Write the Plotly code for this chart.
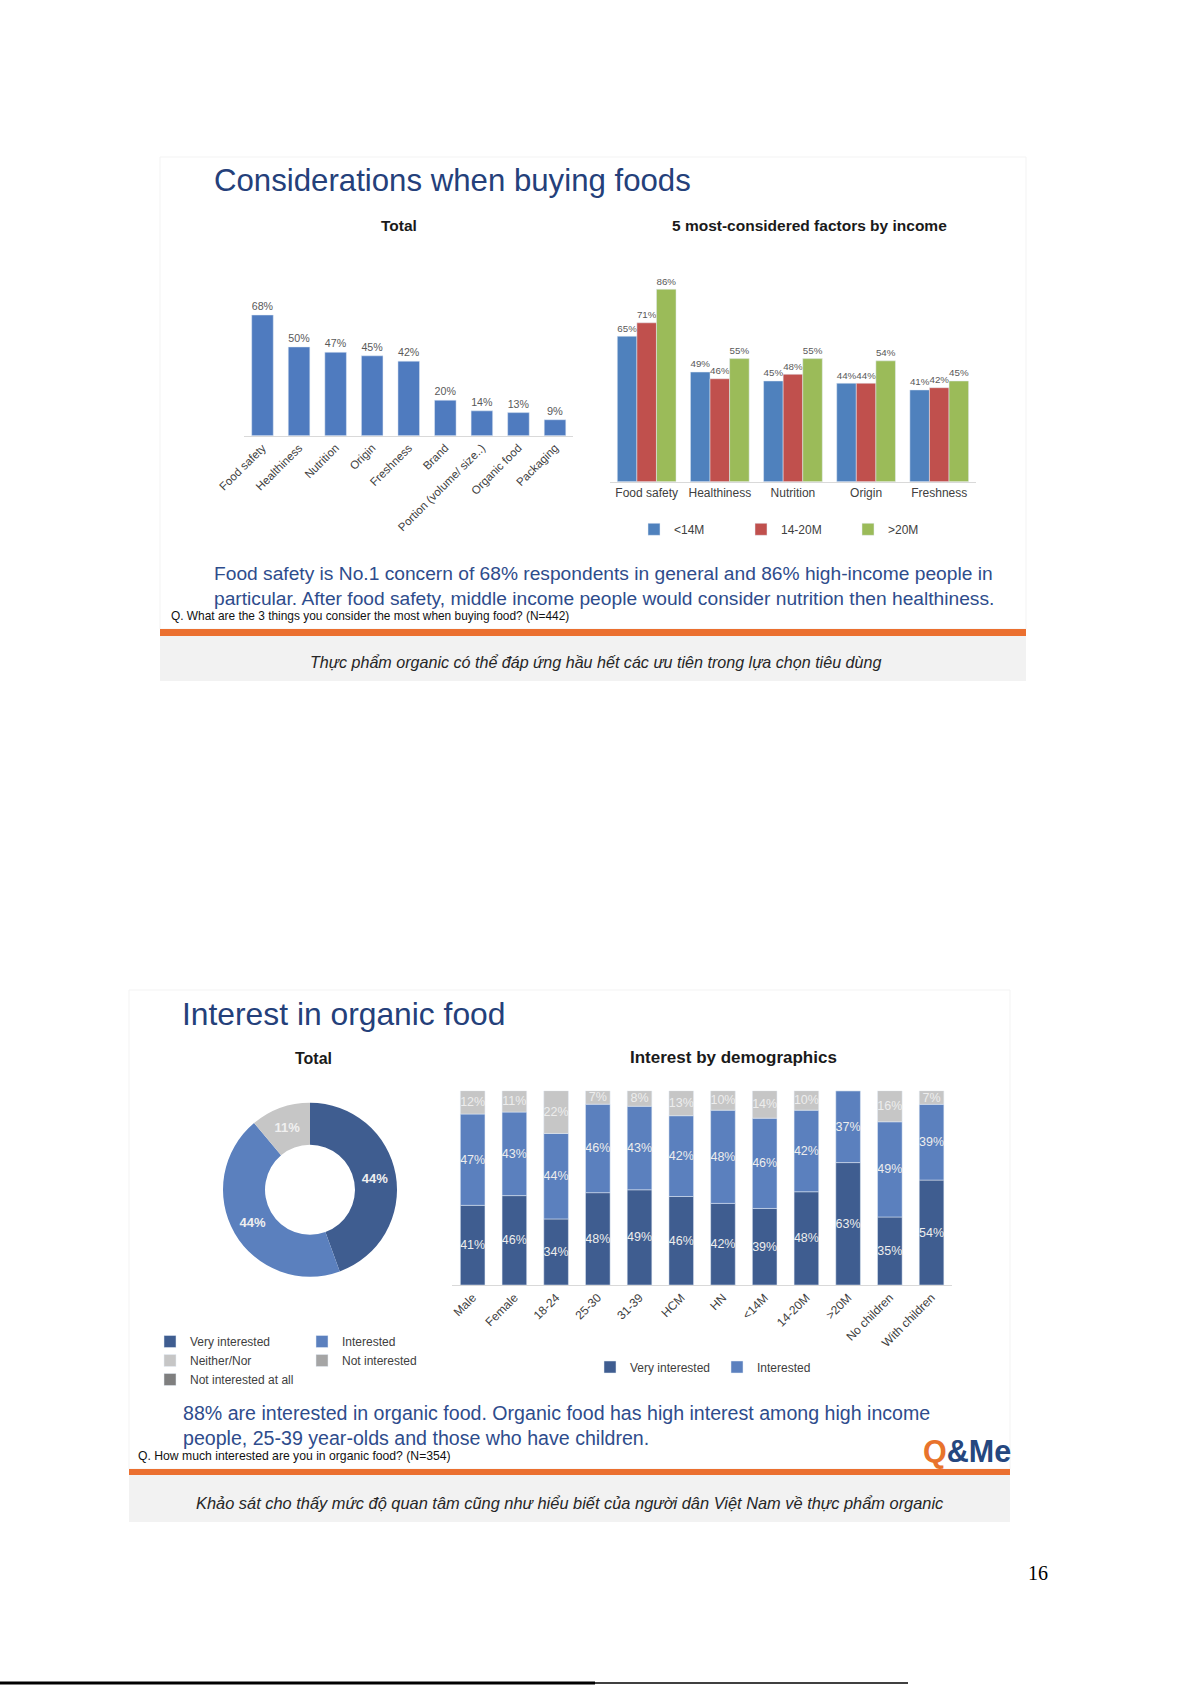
import plotly.graph_objects as go

W, H = 1191, 1685

def px(x):
    return x / W

def py(y):
    return 1 - y / H

# ---------------- data ----------------
factors_total = ["Food safety", "Healthiness", "Nutrition", "Origin", "Freshness",
                 "Brand", "Portion (volume/ size..)", "Organic food", "Packaging"]
total_pct = [68, 50, 47, 45, 42, 20, 14, 13, 9]

factors_income = ["Food safety", "Healthiness", "Nutrition", "Origin", "Freshness"]
income_groups = ["<14M", "14-20M", ">20M"]
income_lt14 = [65, 49, 45, 44, 41]
income_14_20 = [71, 46, 48, 44, 42]
income_gt20 = [86, 55, 55, 54, 45]

interest_labels = ["Very interested", "Interested", "Neither/Nor",
                   "Not interested", "Not interested at all"]
interest_total = [44, 44, 11, 0, 0]

demo_groups = ["Male", "Female", "18-24", "25-30", "31-39", "HCM", "HN",
               "<14M", "14-20M", ">20M", "No children", "With children"]
demo_very = [41, 46, 34, 48, 49, 46, 42, 39, 48, 63, 35, 54]
demo_interested = [47, 43, 44, 46, 43, 42, 48, 46, 42, 37, 49, 39]
demo_neither = [12, 11, 22, 7, 8, 13, 10, 14, 10, 0, 16, 7]

# ---------------- style ----------------
FONT = "Liberation Sans, Arial, sans-serif"
NAVY = "#24407A"
TEXT_BLUE = "#2E4C8C"
ORANGE = "#EB7030"
GREY_BOX = "#F2F2F2"
C_TOTAL = "#4F7BBF"
C_INCOME = ["#4F81BD", "#C0504D", "#9BBB59"]
C_INTEREST = ["#3F5D90", "#5B80BE", "#C6C6C6", "#A5A5A5", "#7F7F7F"]

fig = go.Figure()

# ---- Top-left: Total ----
fig.add_trace(go.Bar(
    x=factors_total, y=total_pct,
    text=[f"{v}%" for v in total_pct], textposition="outside",
    textfont=dict(size=11, color="#595959", family=FONT),
    marker_color=C_TOTAL, width=0.59, cliponaxis=False,
    showlegend=False, xaxis="x", yaxis="y"))

# ---- Top-right: by income ----
for name, vals, col in zip(income_groups, [income_lt14, income_14_20, income_gt20], C_INCOME):
    fig.add_trace(go.Bar(
        x=factors_income, y=vals, name=name,
        text=[f"{v}%" for v in vals], textposition="outside",
        textfont=dict(size=11.5, color="#595959", family=FONT),
        marker_color=col, cliponaxis=False,
        xaxis="x2", yaxis="y2", legend="legend"))

# ---- Bottom-right: 100% stacked demographics ----
totals = [a + b + c for a, b, c in zip(demo_very, demo_interested, demo_neither)]
segments = [demo_very, demo_interested, demo_neither]
norm = [[v * 100.0 / t for v, t in zip(seg, totals)] for seg in segments]
bases = [[0.0] * len(totals),
         norm[0],
         [a + b for a, b in zip(norm[0], norm[1])]]
names = ["Very interested", "Interested", "Neither/Nor"]
for i in range(3):
    fig.add_trace(go.Bar(
        x=demo_groups, y=norm[i], base=bases[i], name=names[i],
        text=[f"{v}%" for v in segments[i]], textposition="inside",
        insidetextanchor="middle", constraintext="none", textangle=0,
        textfont=dict(size=12.5, color="#EDEDED", family=FONT),
        marker_color=C_INTEREST[i], width=0.59, offsetgroup="demo",
        cliponaxis=False, xaxis="x3", yaxis="y3", legend="legend3",
        showlegend=(i < 2)))

# ---- Bottom-left: donut ----
fig.add_trace(go.Pie(
    labels=interest_labels, values=interest_total,
    text=[f"{v}%" if v >= 5 else "" for v in interest_total],
    textinfo="text", textposition="inside", insidetextorientation="horizontal",
    textfont=dict(size=13, color="#F0F0F0", family=FONT, weight="bold"),
    hole=0.517, sort=False, direction="clockwise", rotation=0,
    marker=dict(colors=C_INTEREST, line=dict(width=0)),
    domain=dict(x=[px(223), px(397)], y=[py(1276.7), py(1102.7)]),
    showlegend=False))

# donut legend entries (two columns)
legend_cols = ["legend2", "legend4", "legend2", "legend4", "legend2"]
for lab, col, lg in zip(interest_labels, C_INTEREST, legend_cols):
    fig.add_trace(go.Bar(x=[None], y=[None], name=lab, marker_color=col,
                         xaxis="x3", yaxis="y3", offsetgroup="demo",
                         legend=lg, showlegend=True, hoverinfo="skip"))

axis_common = dict(showgrid=False, zeroline=False, fixedrange=True, automargin=False)
fig.update_layout(
    width=W, height=H,
    margin=dict(l=0, r=0, t=0, b=0, pad=0, autoexpand=False),
    paper_bgcolor="white", plot_bgcolor="rgba(0,0,0,0)",
    font=dict(family=FONT, color="#404040"),
    barmode="group", bargap=0.197, bargroupgap=0,
    xaxis=dict(domain=[px(244.2), px(573.3)], anchor="y", type="category",
               showline=True, linecolor="#D9D9D9", ticks="", tickangle=-45,
               tickfont=dict(size=11.5, color="#404040"), **axis_common),
    yaxis=dict(domain=[py(435.7), py(258.2)], anchor="x", range=[0, 100],
               visible=False, **axis_common),
    xaxis2=dict(domain=[px(610.1), px(975.8)], anchor="y2", type="category",
                showline=True, linecolor="#D9D9D9", ticks="", tickangle=0,
                tickfont=dict(size=12, color="#404040"), **axis_common),
    yaxis2=dict(domain=[py(481.7), py(257.9)], anchor="x2", range=[0, 100],
                visible=False, **axis_common),
    xaxis3=dict(domain=[px(451.8), px(952.4)], anchor="y3", type="category",
                categoryorder="array", categoryarray=demo_groups,
                showline=True, linecolor="#D9D9D9", ticks="", tickangle=-45,
                tickfont=dict(size=12, color="#404040"), **axis_common),
    yaxis3=dict(domain=[py(1285), py(1090.7)], anchor="x3", range=[0, 100],
                visible=False, **axis_common),
    legend=dict(orientation="h", x=px(674 - 40), xanchor="left",
                y=py(529.3), yanchor="middle", entrywidth=62,
                entrywidthmode="pixels", font=dict(size=12, color="#404040"),
                bgcolor="rgba(0,0,0,0)", traceorder="normal"),
    legend2=dict(orientation="v", x=px(188 - 38), xanchor="left",
                 y=py(1327), yanchor="top", font=dict(size=12, color="#404040"),
                 bgcolor="rgba(0,0,0,0)", traceorder="normal", tracegroupgap=0),
    legend4=dict(orientation="v", x=px(302), xanchor="left",
                 y=py(1327), yanchor="top", font=dict(size=12, color="#404040"),
                 bgcolor="rgba(0,0,0,0)", traceorder="normal", tracegroupgap=0),
    legend3=dict(orientation="h", x=px(590), xanchor="left",
                 y=py(1367), yanchor="middle", entrywidth=82,
                 entrywidthmode="pixels", font=dict(size=12, color="#404040"),
                 bgcolor="rgba(0,0,0,0)", traceorder="normal"),
)

shapes = [
    # faint slide frames
    dict(type="rect", x0=px(160), x1=px(1026), y0=py(629), y1=py(157),
         line=dict(color="#F3F3F3", width=1), fillcolor="rgba(0,0,0,0)"),
    dict(type="rect", x0=px(129), x1=px(1010), y0=py(1469), y1=py(990),
         line=dict(color="#F3F3F3", width=1), fillcolor="rgba(0,0,0,0)"),
    # top slide footer
    dict(type="rect", x0=px(160), x1=px(1026), y0=py(636), y1=py(629),
         line=dict(width=0), fillcolor=ORANGE),
    dict(type="rect", x0=px(160), x1=px(1026), y0=py(681), y1=py(636),
         line=dict(width=0), fillcolor=GREY_BOX),
    # bottom slide footer
    dict(type="rect", x0=px(129), x1=px(1010), y0=py(1475), y1=py(1469),
         line=dict(width=0), fillcolor=ORANGE),
    dict(type="rect", x0=px(129), x1=px(1010), y0=py(1522), y1=py(1475),
         line=dict(width=0), fillcolor=GREY_BOX),
    # page bottom edge
    dict(type="line", x0=0, x1=px(595), y0=py(1683), y1=py(1683),
         line=dict(color="black", width=3)),
    dict(type="line", x0=px(595), x1=px(908), y0=py(1683), y1=py(1683),
         line=dict(color="black", width=1.5)),
]
for s in shapes:
    s.update(xref="paper", yref="paper", layer="below")
fig.update_layout(shapes=shapes)

def ann(text, x, y, size, color, xanchor="left", bold=False, family=FONT, align="left"):
    if bold:
        text = f"<b>{text}</b>"
    fig.add_annotation(text=text, x=px(x), y=py(y), xref="paper", yref="paper",
                       xanchor=xanchor, yanchor="middle", showarrow=False,
                       align=align, font=dict(size=size, color=color, family=family))

# top slide texts
ann("Considerations when buying foods", 212, 181, 31.2, NAVY)
ann("Total", 398.5, 226, 15.5, "#1A1A1A", xanchor="center", bold=True)
ann("5 most-considered factors by income", 809, 225, 15.5, "#1A1A1A", xanchor="center", bold=True)
ann("Food safety is No.1 concern of 68% respondents in general and 86% high-income people in<br>"
    "particular. After food safety, middle income people would consider nutrition then healthiness.",
    212, 586, 19.2, TEXT_BLUE)
ann("Q. What are the 3 things you consider the most when buying food? (N=442)", 169, 616.3, 11.9, "#111111")
ann("<i>Thực phẩm organic có thể đáp ứng hầu hết các ưu tiên trong lựa chọn tiêu dùng</i>",
    595, 661.5, 16.1, "#262626", xanchor="center")

# bottom slide texts
ann("Interest in organic food", 180, 1013.5, 31.8, NAVY)
ann("Total", 313.5, 1058, 16, "#1A1A1A", xanchor="center", bold=True)
ann("Interest by demographics", 733, 1057, 17, "#1A1A1A", xanchor="center", bold=True)
ann("88% are interested in organic food. Organic food has high interest among high income<br>"
    "people, 25-39 year-olds and those who have children.",
    181, 1425, 19.6, TEXT_BLUE)
ann("Q. How much interested are you in organic food? (N=354)", 136, 1456.4, 12.2, "#111111")
ann("<b><span style='color:#E8732C'>Q</span><span style='color:#25477F'>&amp;Me</span></b>",
    921, 1451, 30.5, "#25477F")
ann("<i>Khảo sát cho thấy mức độ quan tâm cũng như hiểu biết của người dân Việt Nam về thực phẩm organic</i>",
    570, 1502.6, 16.4, "#262626", xanchor="center")

# page number
ann("16", 1038, 1573, 20, "#000000", xanchor="center",
    family="Liberation Serif, Times New Roman, serif")

fig.write_html("out.html", config={"displayModeBar": False},
               post_script="document.body.style.margin='0';")
